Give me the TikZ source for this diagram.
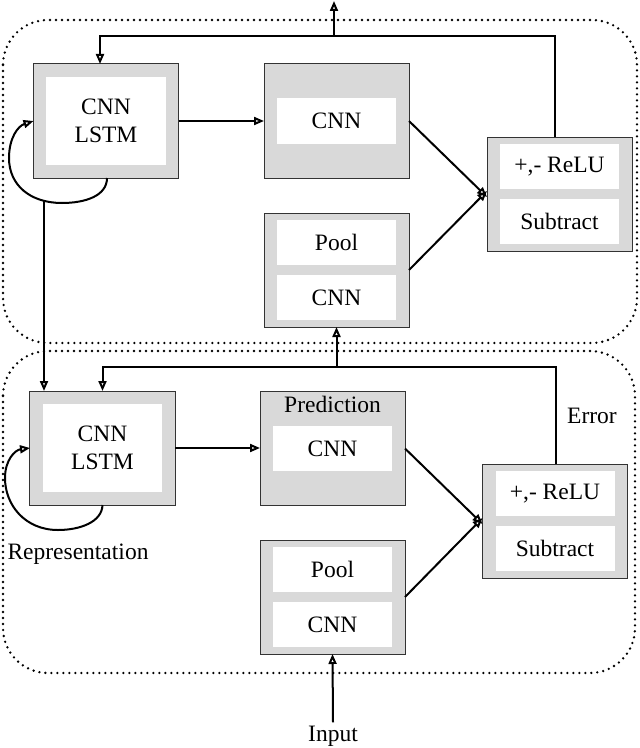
\documentclass[tikz,border=0pt]{standalone}
\usepackage{fontspec}
\setmainfont{Liberation Serif}
\usetikzlibrary{arrows.meta,calc}
\definecolor{boxgray}{RGB}{217,217,217}
\begin{document}
\begin{tikzpicture}[x=1bp,y=-1bp,
  font=\fontsize{23.5bp}{28bp}\selectfont,
  outerbox/.style={draw=black!80, line width=1bp, fill=boxgray, minimum width=145bp, minimum height=114bp, inner sep=0pt, outer sep=0pt},
  innerbox/.style={fill=white, minimum width=119bp, inner sep=0pt, outer sep=0pt, align=center},
  conn/.style={line width=2bp, -{Triangle[open,length=10bp,width=8bp]}},
  panel/.style={line width=2.6bp, dash pattern=on 0bp off 6bp, line cap=round, rounded corners=45bp}]
\useasboundingbox (0,0) rectangle (640,748);

% panels
\draw[panel] (3,20) rectangle (637,343);
\draw[panel] (3,351) rectangle (635,673);

% ---------- top layer ----------
\node[outerbox] (A1) at (106,121) {};
\node[innerbox, minimum height=88bp] (A1i) at (A1) {CNN\\LSTM};
\node[outerbox] (B1) at (336.5,121) {};
\node[innerbox, minimum height=46bp] (B1i) at (B1) {CNN};
\node[outerbox] (C1) at (336.5,270) {};
\node[innerbox, minimum height=45bp] (C1a) at (336.5,242.5) {Pool};
\node[innerbox, minimum height=45bp] (C1b) at (336.5,297.5) {CNN};
\node[outerbox] (D1) at (559.5,194) {};
\node[innerbox, minimum height=45bp] (D1a) at (559.5,166.5) {+,- ReLU};
\node[innerbox, minimum height=45bp] (D1b) at (559.5,221.5) {Subtract};

% ---------- bottom layer ----------
\node[outerbox] (A2) at (102.5,448) {};
\node[innerbox, minimum height=88bp] (A2i) at (A2) {CNN\\LSTM};
\node[outerbox] (B2) at (332.5,448) {};
\node (pred) at (332.5,404) {Prediction};
\node[innerbox, minimum height=45bp] (B2i) at (332.5,448.5) {CNN};
\node[outerbox] (C2) at (332.5,597) {};
\node[innerbox, minimum height=45bp] (C2a) at (332.5,569.5) {Pool};
\node[innerbox, minimum height=45bp] (C2b) at (332.5,624.5) {CNN};
\node[outerbox] (D2) at (555,521) {};
\node[innerbox, minimum height=45bp] (D2a) at (555,493.5) {+,- ReLU};
\node[innerbox, minimum height=45bp] (D2b) at (555,548.5) {Subtract};

\node (err) at (592,416) {Error};
\node (rep) at (78,554) {Representation};
\node (inp) at (333,736) {Input};

% ---------- coordinates ----------
\coordinate (t1) at (0,36);
\coordinate (t2) at (0,367);
\coordinate (out) at (334,1);

% ---------- top connectors ----------
\draw[conn] (A1.east) -- (B1.west);
\draw[conn] (B1.east |- B1i.east) -- ([yshift=-3bp]D1.west);
\draw[conn] (C1.east) -- ([yshift=3bp]D1.west);
\draw[conn] ([xshift=-5bp]D1.north) |- ([xshift=-6bp]A1.north |- t1) -- ([xshift=-6bp]A1.north);
\draw[conn] (out |- t1) -- (out);
\draw[conn] ([xshift=1bp]A1.south) .. controls (107,196) and (85,203) .. (62,203)
  .. controls (30,203) and (9,185) .. (9,158)
  .. controls (9,138) and (18,126) .. (A1.west);
\coordinate (v1) at (44,201);
\draw[conn] (v1) -- (v1 |- A2.north);

% ---------- bottom connectors ----------
\draw[conn] (A2.east) -- (B2.west);
\draw[conn] (B2.east |- B2i.east) -- ([yshift=-3bp]D2.west);
\draw[conn] (C2.east) -- ([yshift=3bp]D2.west);
\draw[conn] ([xshift=1bp]D2.north) |- (A2.north |- t2) -- (A2.north);
\draw[conn] (C1.south |- t2) -- (C1.south);
\draw[conn] (inp.north) -- (C2.south);
\draw[conn] (A2.south) .. controls (102,522) and (80,530) .. (58,530)
  .. controls (25,530) and (5,505) .. (5,478)
  .. controls (5,460) and (15,450) .. (A2.west);
\end{tikzpicture}
\end{document}
